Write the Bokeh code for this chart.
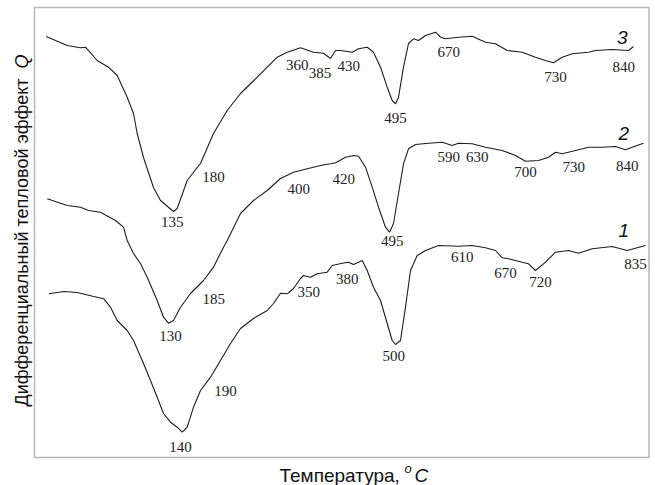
import math
from bokeh.plotting import figure
from bokeh.models import Label, Range1d, ColumnDataSource, BoxAnnotation
from bokeh.core.properties import value
from bokeh.embed import file_html
from bokeh.resources import INLINE

# ---- data (arbitrary units: x = relative heating time, y = heat-effect signal) ----
c3_x = [1.17, 3.27, 4.6, 5.1, 6.27, 7.4, 8.27, 9.27, 9.9, 10.27, 10.9, 11.9, 12.6, 13.9, 14.27,
        15.27, 16.27, 16.6, 17.9, 19.27, 20.6, 22.27, 23.27, 24.27, 25.27, 26.6, 27.9, 28.9, 29.6,
        30.1, 30.6, 31.77, 32.4, 33.27, 33.9, 34.6, 35.27, 35.77, 36.1, 36.4, 36.9, 37.4, 37.9,
        38.4, 39.1, 40.1, 40.6, 41.1, 42.4, 43.77, 45.1, 46.1, 47.27, 48.77, 50.1, 51.1, 51.9,
        52.77, 53.77, 55.4, 56.1, 57.77, 59.4, 59.9]
c3_y = [42.1, 41.2, 40.97, 41.03, 39.7, 39.03, 38.2, 36.03, 34.4, 32.4, 30.0, 27.0, 25.7, 24.6, 24.9,
        27.7, 29.0, 29.4, 32.4, 34.7, 36.4, 38.03, 39.03, 40.03, 40.53, 40.97, 40.53, 40.43, 39.9,
        40.7, 40.7, 40.53, 40.87, 41.03, 40.53, 39.03, 37.03, 35.7, 35.37, 36.03, 39.03, 41.4, 41.87,
        41.7, 42.2, 42.53, 42.03, 41.87, 42.03, 42.13, 41.53, 41.37, 40.7, 40.53, 40.03, 39.7, 39.47,
        40.03, 40.37, 40.53, 40.7, 40.8, 40.7, 41.1]

c2_x = [1.27, 3.27, 4.6, 5.4, 6.6, 8.1, 8.9, 9.27, 9.9, 10.6, 11.27, 12.27, 12.9, 13.4, 13.9,
        14.6, 15.6, 16.9, 17.9, 18.9, 19.27, 20.6, 21.9, 23.27, 24.6, 25.9, 27.27, 28.6, 29.6,
        30.1, 31.1, 31.9, 32.4, 33.1, 33.77, 34.4, 35.1, 35.5, 35.9, 36.4, 36.9, 37.4, 38.1,
        39.4, 40.77, 41.77, 42.4, 43.77, 45.1, 46.77, 48.1, 49.1, 50.4, 51.4, 52.1, 52.77, 54.1,
        55.4, 56.77, 58.1, 59.1, 59.77, 60.9]
c2_y = [25.87, 25.2, 25.03, 24.7, 24.53, 23.7, 23.03, 21.7, 20.4, 19.4, 18.03, 15.7, 14.03, 13.43, 13.7,
        15.03, 16.4, 17.7, 19.03, 21.03, 21.7, 24.4, 25.7, 26.7, 27.9, 28.53, 28.87, 29.2, 29.37,
        29.47, 30.03, 30.2, 30.13, 29.03, 27.03, 25.03, 23.03, 22.53, 23.4, 26.4, 29.37, 30.87, 31.3,
        31.43, 31.53, 31.2, 31.43, 31.37, 31.03, 30.7, 30.2, 29.63, 29.7, 30.03, 30.53, 30.37, 30.7,
        31.03, 31.03, 31.1, 30.77, 31.03, 31.43]

c1_x = [1.43, 2.93, 4.27, 5.93, 6.93, 7.6, 8.27, 9.27, 9.9, 10.9, 11.6, 12.27, 12.9, 13.6, 14.27,
        14.77, 15.27, 15.9, 16.6, 17.6, 18.6, 19.6, 20.6, 21.9, 23.27, 23.9, 24.6, 25.27, 25.9,
        26.6, 26.9, 27.6, 28.27, 29.27, 29.77, 30.77, 31.4, 31.9, 32.77, 33.27, 33.9, 34.6, 35.27,
        35.77, 36.1, 36.6, 37.1, 37.6, 38.27, 39.1, 40.4, 42.4, 43.77, 45.1, 46.1, 46.77, 47.4,
        48.77, 49.4, 50.1, 51.1, 52.1, 53.4, 54.4, 55.77, 57.77, 59.27, 61.1]
c1_y = [16.37, 16.6, 16.5, 16.1, 15.87, 15.03, 13.7, 12.7, 11.7, 9.4, 7.7, 6.03, 4.4, 3.53, 3.03,
        2.53, 3.03, 5.03, 6.7, 8.03, 9.7, 11.4, 12.9, 13.9, 14.7, 15.4, 16.43, 16.37, 16.9,
        17.9, 18.2, 18.03, 18.37, 18.53, 19.2, 19.43, 19.53, 19.3, 19.7, 18.7, 17.03, 15.7, 13.4,
        11.7, 11.3, 11.7, 15.03, 18.7, 20.2, 20.7, 21.2, 21.13, 21.2, 20.97, 20.7, 19.97, 19.87,
        19.53, 19.37, 18.7, 19.53, 20.53, 20.7, 20.43, 20.87, 21.1, 20.7, 21.2]

# temperature annotations (°C) with their positions
t_text = ["135", "180", "360", "385", "430", "495", "670", "730", "840",
          "130", "185", "400", "420", "495", "590", "630", "700", "730", "840",
          "140", "190", "350", "380", "500", "610", "670", "720", "835"]
t_x = [13.77, 17.9, 26.27, 28.55, 31.43, 36.1, 41.43, 52.1, 58.93,
       13.6, 17.93, 26.43, 30.93, 35.77, 41.43, 44.27, 49.1, 53.93, 59.27,
       14.6, 19.1, 27.43, 31.27, 35.93, 42.77, 47.1, 50.6, 60.1]
t_y = [23.53, 28.03, 39.3, 38.43, 39.2, 33.97, 40.53, 38.1, 39.03,
       12.2, 15.87, 26.87, 27.87, 21.63, 30.03, 30.03, 28.53, 29.03, 29.2,
       1.03, 6.7, 16.53, 17.87, 10.2, 20.03, 18.43, 17.53, 19.37]

curve_ids = ["3", "2", "1"]
id_x = [58.77, 58.93, 58.93]
id_y = [42.03, 32.37, 22.7]

# plot-area extents in data units
area_left, area_right, area_bottom, area_top = 0.0, 61.45, 0.0, 45.0

x_title = "Температура, "
y_title = "Дифференциальный тепловой эффект"

# ---- figure ----
p = figure(width=655, height=485, output_backend="svg", toolbar_location=None,
           x_range=Range1d(-3.4, 62.1), y_range=Range1d(-2.8, 45.7),
           min_border=0)
p.axis.visible = False
p.grid.visible = False
p.outline_line_color = None
p.background_fill_color = "white"
p.border_fill_color = "white"

p.add_layout(BoxAnnotation(left=area_left, right=area_right, bottom=area_bottom, top=area_top,
                           fill_alpha=0, line_color="#111111", line_width=1.5))

line_color = "#1c1c1c"
for xs, ys in [(c3_x, c3_y), (c2_x, c2_y), (c1_x, c1_y)]:
    p.line(xs, ys, line_color=line_color, line_width=1.1)

src = ColumnDataSource(dict(x=t_x, y=t_y, t=t_text))
p.text(x="x", y="y", text="t", source=src, text_font=value("Liberation Serif"),
       text_font_size="15px", text_align="center", text_baseline="middle", text_color="#222222")

src2 = ColumnDataSource(dict(x=id_x, y=id_y, t=curve_ids))
p.text(x="x", y="y", text="t", source=src2, text_font=value("Liberation Sans"),
       text_font_style="italic", text_font_size="19px", text_align="center",
       text_baseline="middle", text_color="#111111")

# axis titles (screen units measured from the canvas bottom-left)
font = "Liberation Sans"
p.add_layout(Label(x=279, y=10, x_units="screen", y_units="screen", text=x_title,
                   text_font=font, text_font_size="19px", text_baseline="middle",
                   text_align="left", text_color="#111111"))
p.add_layout(Label(x=404, y=17, x_units="screen", y_units="screen", text="o",
                   text_font=font, text_font_style="italic", text_font_size="13px",
                   text_baseline="middle", text_align="left", text_color="#111111"))
p.add_layout(Label(x=414, y=10, x_units="screen", y_units="screen", text="C",
                   text_font=font, text_font_style="italic", text_font_size="19px",
                   text_baseline="middle", text_align="left", text_color="#111111"))

p.add_layout(Label(x=21, y=79, x_units="screen", y_units="screen", text=y_title,
                   angle=math.pi / 2, text_font=font, text_font_size="18px",
                   text_baseline="middle", text_align="left", text_color="#111111"))
p.add_layout(Label(x=21, y=417, x_units="screen", y_units="screen", text="Q",
                   angle=math.pi / 2, text_font=font, text_font_style="italic",
                   text_font_size="18px", text_baseline="middle", text_align="left",
                   text_color="#111111"))

open("out.html", "w").write(file_html(p, INLINE))
